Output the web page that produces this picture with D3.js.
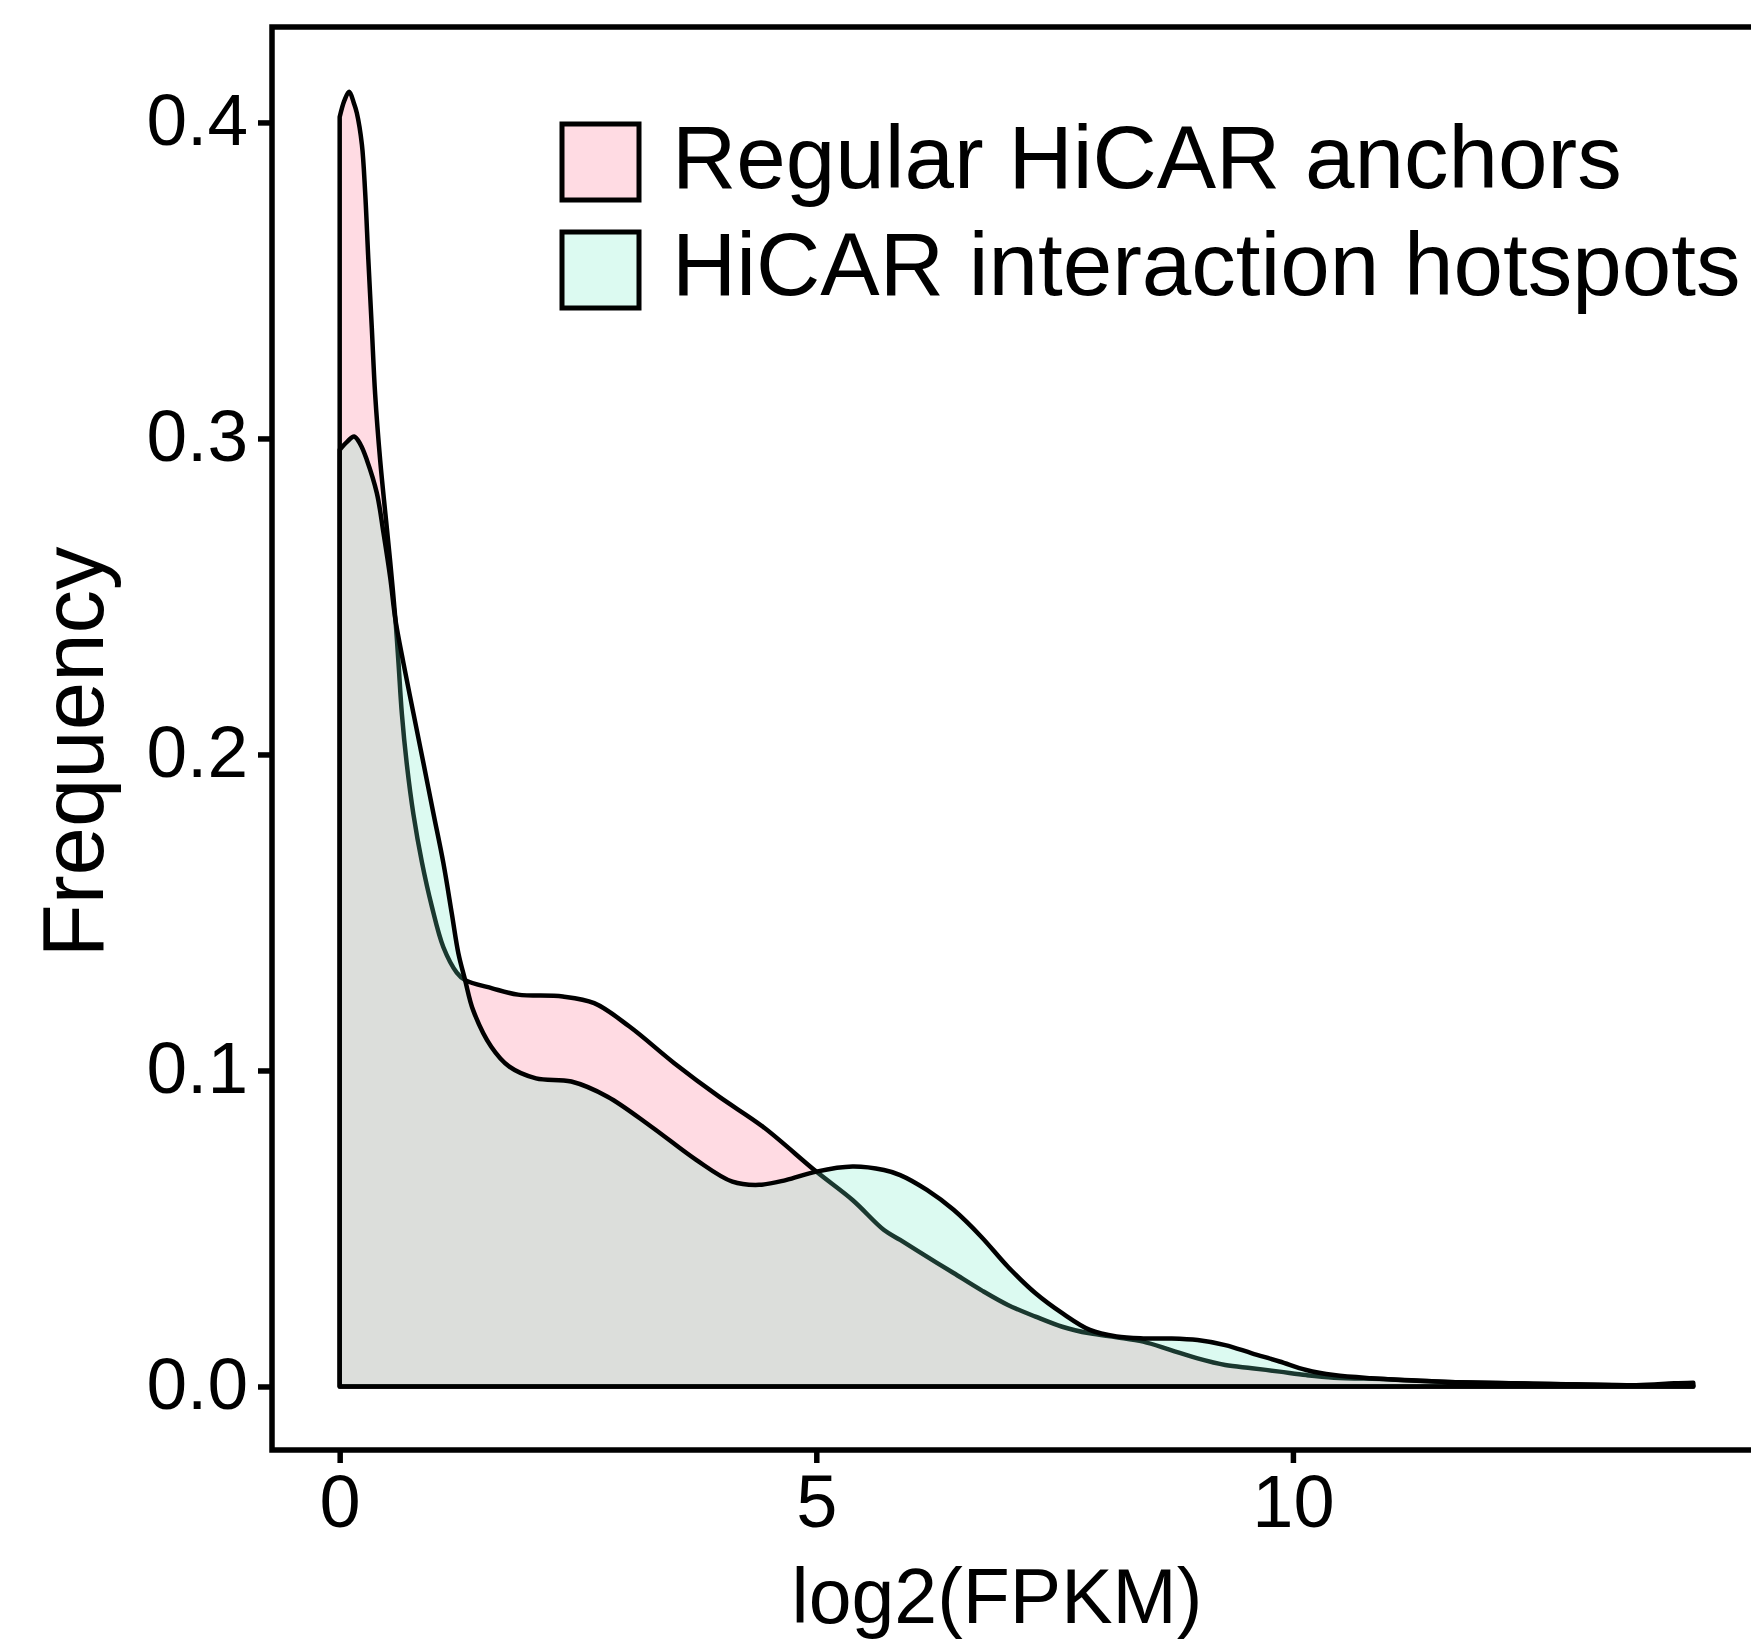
<!DOCTYPE html>
<html>
<head>
<meta charset="utf-8">
<script src="https://cdn.jsdelivr.net/npm/d3@7"></script>
<style>
	body { margin: 0; background: #fff; }
	text { font-family: 'Liberation Sans', Arial, sans-serif; fill: #000; }
</style>
</head>
<body>
<svg width="1751" height="1639"></svg>
<script>
// density of log2(FPKM), two groups

// series names
var groups = [ 'Regular HiCAR anchors', 'HiCAR interaction hotspots' ];

// regular anchors (pink)
var regularX = [ 0, 0.05, 0.1, 0.15, 0.18, 0.233, 0.267, 0.3, 0.337, 0.372, 0.425, 0.48, 0.53, 0.585, 0.617, 0.652,
	0.704, 0.774, 0.862, 0.966, 1.088, 1.228, 1.316, 1.6, 1.87, 2.34, 2.67, 3.04, 3.51, 3.98, 4.44, 5.0, 5.38, 5.71,
	5.88, 6.16, 6.44, 6.73, 7.01, 7.3, 7.58, 7.87, 8.15, 8.43, 8.72, 9.0, 9.29, 9.57, 9.86, 10.14, 10.43, 11.0, 11.56,
	12.7, 13.5, 14.2 ];
var regularY = [ 0.4017, 0.407, 0.4097, 0.406, 0.403, 0.393, 0.378, 0.357, 0.335, 0.314, 0.293, 0.276, 0.261, 0.2426,
	0.229, 0.213, 0.197, 0.181, 0.166, 0.152, 0.139, 0.131, 0.1286, 0.126, 0.124, 0.1234, 0.1213, 0.1139, 0.1023, 0.0917,
	0.0822, 0.068, 0.059, 0.0495, 0.0464, 0.0411, 0.0359, 0.0305, 0.0258, 0.0221, 0.0189, 0.0168, 0.0156, 0.0142, 0.0115,
	0.0089, 0.0068, 0.0058, 0.0047, 0.0036, 0.0028, 0.0023, 0.0015, 0.0008, 0.0004, 0.0003 ];

// interaction hotspots (mint)
var hotspotX = [ 0, 0.08, 0.152, 0.22, 0.285, 0.39, 0.46, 0.53, 0.585, 0.669, 0.774, 0.879, 0.983, 1.088, 1.176, 1.245,
	1.316, 1.4, 1.59, 1.78, 2.06, 2.43, 2.81, 3.27, 3.74, 4.12, 4.4, 4.68, 5.0, 5.38, 5.71, 5.88, 6.16, 6.44, 6.73, 7.01,
	7.3, 7.58, 7.87, 8.15, 8.43, 8.72, 9.0, 9.29, 9.57, 9.86, 10.14, 10.43, 10.82, 11.56, 12.7, 13.6, 14.0, 14.2 ];
var hotspotY = [ 0.2964, 0.299, 0.3006, 0.298, 0.2932, 0.2827, 0.27, 0.256, 0.2426, 0.2289, 0.213, 0.1972, 0.1814,
	0.1656, 0.1497, 0.1371, 0.1286, 0.1191, 0.1075, 0.1012, 0.0975, 0.0965, 0.0917, 0.0822, 0.0717, 0.0648, 0.0638, 0.0653,
	0.068, 0.0696, 0.0685, 0.0669, 0.0622, 0.0559, 0.0474, 0.0379, 0.0295, 0.0232, 0.0179, 0.0158, 0.0152, 0.0152, 0.0147,
	0.0131, 0.0105, 0.0079, 0.0052, 0.0036, 0.0026, 0.0015, 0.0008, 0.0004, 0.001, 0.0012 ];

// ticks
var xTicks = [ 0, 5, 10 ];
var yTicks = [ 0, 0.1, 0.2, 0.3, 0.4 ];

var fills = [ 'rgb(255,105,140)', 'rgb(110,235,195)' ];
var alpha = 0.24;

var svg = d3.select('svg');

// panel edges (window.top is taken, so prefixed names)
var panelLeft = 272,
	panelRight = 1760,
	panelTop = 27,
	panelBottom = 1450;

var x = d3.scaleLinear().domain([ -0.71, 14.9 ]).range([ panelLeft, panelRight ]);
var y = d3.scaleLinear().domain([ -0.0201, 0.4302 ]).range([ panelBottom, panelTop ]);

var series = [
	regularX.map((v, i) => [ v, regularY[i] ]),
	hotspotX.map((v, i) => [ v, hotspotY[i] ])
];

var area = d3
	.area()
	.x((d) => x(d[0]))
	.y0(y(0))
	.y1((d) => y(d[1]))
	.curve(d3.curveCatmullRom.alpha(0.5));

//draw the densities, outline closes on the baseline
svg
	.append('g')
	.selectAll('path')
	.data(series)
	.enter()
	.append('path')
	.attr('d', (d) => area(d) + 'Z')
	.attr('fill', (d, i) => fills[i])
	.attr('fill-opacity', alpha)
	.attr('stroke', '#000')
	.attr('stroke-width', 4.5)
	.attr('stroke-linejoin', 'round');

// panel box
svg
	.append('rect')
	.attr('x', panelLeft)
	.attr('y', panelTop)
	.attr('width', panelRight - panelLeft)
	.attr('height', panelBottom - panelTop)
	.attr('fill', 'none')
	.attr('stroke', '#000')
	.attr('stroke-width', 5.5);

// y axis
var yAxis = svg
	.append('g')
	.attr('transform', 'translate(' + panelLeft + ',0)')
	.call(d3.axisLeft(y).tickValues(yTicks).tickFormat(d3.format('.1f')).tickSize(14).tickPadding(10));
yAxis.select('.domain').remove();
yAxis.selectAll('line').attr('stroke-width', 5.5);
yAxis.selectAll('text').attr('font-size', 73).attr('dy', '0.3em').style('font-family', null);

// x axis
var xAxis = svg
	.append('g')
	.attr('transform', 'translate(0,' + panelBottom + ')')
	.call(d3.axisBottom(x).tickValues(xTicks).tickSize(13).tickPadding(8));
xAxis.select('.domain').remove();
xAxis.selectAll('line').attr('stroke-width', 5.5);
xAxis.selectAll('text').attr('font-size', 74).attr('dy', '0.75em').style('font-family', null);

// axis titles
svg.append('text').attr('x', 997).attr('y', 1623).attr('text-anchor', 'middle').attr('font-size', 77).text('log2(FPKM)');

svg
	.append('text')
	.attr('transform', 'translate(103,752) rotate(-90)')
	.attr('text-anchor', 'middle')
	.attr('font-size', 87)
	.text('Frequency');

// legend
var legend = svg.append('g').selectAll('g').data(groups).enter().append('g');

legend
	.append('rect')
	.attr('x', 562)
	.attr('y', (d, i) => 124 + i * 108)
	.attr('width', 77)
	.attr('height', 76)
	.attr('fill', (d, i) => fills[i])
	.attr('fill-opacity', alpha)
	.attr('stroke', '#000')
	.attr('stroke-width', 5);

legend
	.append('text')
	.attr('x', 672)
	.attr('y', (d, i) => 188 + i * 107)
	.attr('font-size', 89)
	.text((d) => d);
</script>
</body>
</html>
